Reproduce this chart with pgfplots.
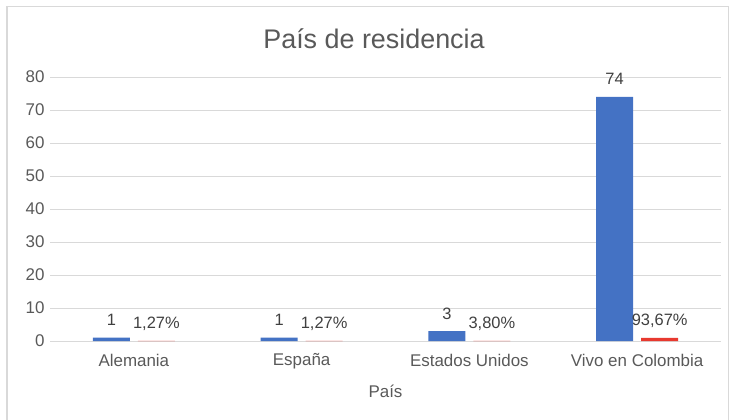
\documentclass[border=0pt]{standalone}
\usepackage{pgfplots}
\pgfplotsset{compat=1.18}
\usepackage{fontspec}
\setmainfont{Liberation Sans}
\definecolor{bblue}{HTML}{4472C4}
\definecolor{rred}{HTML}{E8392F}
\definecolor{gridc}{HTML}{D9D9D9}
\definecolor{txt}{HTML}{595959}
\definecolor{lbl}{HTML}{404040}
\begin{document}
\begin{tikzpicture}[x=1bp,y=1bp]
\useasboundingbox (0,0) rectangle (732,419);
\draw[gridc, line width=1.3bp] (7,-5) -- (7,412.5) -- (728.5,412.5) -- (728.5,-5);
\node[text=txt, font=\fontsize{27}{27}\selectfont, anchor=base] at (374,371) {País de residencia};
\begin{axis}[
  at={(50bp,78bp)}, anchor=south west,
  scale only axis, width=671bp, height=264bp,
  ymin=0, ymax=80, ytick={0,10,...,80},
  xmin=-0.5, xmax=3.5, xtick={0,1,2,3},
  xticklabels={Alemania, España, Estados Unidos, Vivo en Colombia},
  ybar=8bp, bar width=37bp,
  axis line style={draw=none},
  tick style={draw=none},
  ymajorgrids, major grid style={gridc, line width=1bp},
  tick label style={font=\fontsize{17}{17}\selectfont, text=txt},
  /pgf/number format/assume math mode=true,
  xticklabel style={yshift=-5bp},
  yticklabel style={xshift=-2bp},
  xlabel={País}, xlabel style={font=\fontsize{17}{17}\selectfont, text=txt, yshift=-9bp},
  nodes near coords,
  nodes near coords style={font=\fontsize{16.5}{16.5}\selectfont, text=lbl, anchor=base, inner sep=0pt, yshift=12bp},
  clip=false,
]
\addplot[fill=bblue, draw=none] coordinates {(0,1) (1,1) (2,3) (3,74)};
\addplot[fill=rred, draw=none, point meta=explicit symbolic] coordinates {
  (0,0.0127) [1,27\%]
  (1,0.0127) [1,27\%]
  (2,0.038) [3,80\%]
  (3,0.9367) [93,67\%]
};
\end{axis}
\end{tikzpicture}
\end{document}
